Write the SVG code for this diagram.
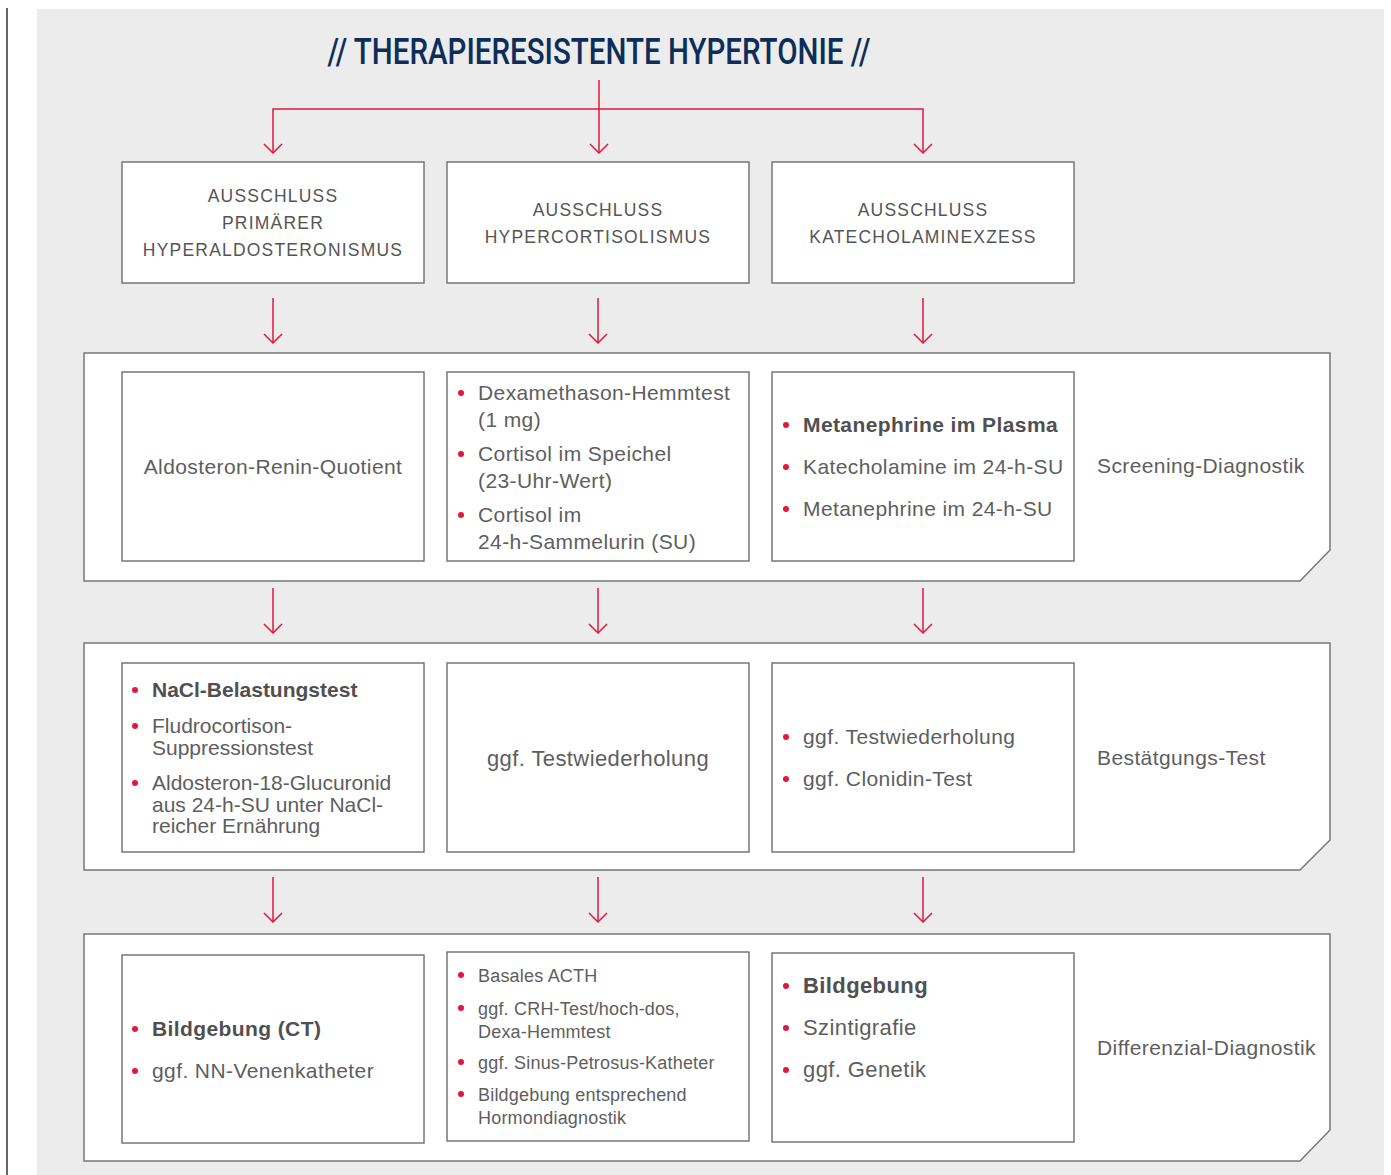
<svg xmlns="http://www.w3.org/2000/svg" width="1391" height="1175" viewBox="0 0 1391 1175">
<defs>
<style>
.box{fill:#fff;stroke:#777;stroke-width:1.5}
.band{fill:#fff;stroke:#777;stroke-width:1.5}
.con{fill:none;stroke:#e3173e;stroke-width:1.5}
.hd{font-family:"Liberation Sans",Arial,sans-serif;font-size:17.5px;letter-spacing:1.2px;fill:#555;text-anchor:middle}
.t{font-family:"Liberation Sans",Arial,sans-serif;font-size:21px;letter-spacing:0.4px;fill:#5e5e5e}
.tn{font-family:"Liberation Sans",Arial,sans-serif;font-size:21px;fill:#5e5e5e}
.tl{font-family:"Liberation Sans",Arial,sans-serif;font-size:22px;letter-spacing:0.4px;fill:#5e5e5e}
.ts{font-family:"Liberation Sans",Arial,sans-serif;font-size:18px;letter-spacing:0.2px;fill:#5e5e5e}
.b{font-weight:bold;fill:#505050}
.c{text-anchor:middle}
.dot{fill:#e3173e}
</style>
<marker id="arr" viewBox="0 0 12 20" refX="11" refY="10" markerWidth="12" markerHeight="20" markerUnits="userSpaceOnUse" orient="auto-start-reverse">
<path d="M2,1 L11,10 L2,19" fill="none" stroke="#e3173e" stroke-width="1.5"/>
</marker>
</defs>
<rect x="0" y="0" width="1391" height="1175" fill="#fff"/>
<rect x="6" y="8" width="2" height="1167" fill="#666"/>
<rect x="37" y="9" width="1347" height="1166" fill="#ececec"/>
<text x="599" y="64" font-family="Roboto,'Liberation Sans',sans-serif" font-weight="500" font-size="36" fill="#0d2d5a" text-anchor="middle" textLength="543" lengthAdjust="spacingAndGlyphs">// THERAPIERESISTENTE HYPERTONIE //</text>

<g id="connectors">
<path class="con" d="M599,80 V153" marker-end="url(#arr)"/>
<path class="con" d="M273,153 V109 H923 V153" marker-start="url(#arr)" marker-end="url(#arr)"/>
<path class="con" d="M273,298 V343" marker-end="url(#arr)"/>
<path class="con" d="M598,298 V343" marker-end="url(#arr)"/>
<path class="con" d="M923,298 V343" marker-end="url(#arr)"/>
<path class="con" d="M273,588 V633" marker-end="url(#arr)"/>
<path class="con" d="M598,588 V633" marker-end="url(#arr)"/>
<path class="con" d="M923,588 V633" marker-end="url(#arr)"/>
<path class="con" d="M273,877 V922" marker-end="url(#arr)"/>
<path class="con" d="M598,877 V922" marker-end="url(#arr)"/>
<path class="con" d="M923,877 V922" marker-end="url(#arr)"/>
</g>

<g id="band-screening">
<path class="band" d="M84,353 H1330 V550 L1300,581 H84 Z"/>
<text class="t" x="1097" y="473">Screening-Diagnostik</text>
</g>
<g id="band-bestaetigung">
<path class="band" d="M84,643 H1330 V840 L1300,870 H84 Z"/>
<text class="t" x="1097" y="765">Bestätgungs-Test</text>
</g>
<g id="band-differenzial">
<path class="band" d="M84,934 H1330 V1130 L1300,1161 H84 Z"/>
<text class="t" x="1097" y="1055">Differenzial-Diagnostik</text>
</g>

<g id="h1">
<rect class="box" x="122" y="162" width="302" height="121"/>
<text class="hd" x="273" y="202">AUSSCHLUSS</text>
<text class="hd" x="273" y="229">PRIMÄRER</text>
<text class="hd" x="273" y="256">HYPERALDOSTERONISMUS</text>
</g>
<g id="h2">
<rect class="box" x="447" y="162" width="302" height="121"/>
<text class="hd" x="598" y="216">AUSSCHLUSS</text>
<text class="hd" x="598" y="243">HYPERCORTISOLISMUS</text>
</g>
<g id="h3">
<rect class="box" x="772" y="162" width="302" height="121"/>
<text class="hd" x="923" y="216">AUSSCHLUSS</text>
<text class="hd" x="923" y="243">KATECHOLAMINEXZESS</text>
</g>

<g id="s1">
<rect class="box" x="122" y="372" width="302" height="189"/>
<text class="t c" x="273" y="474">Aldosteron-Renin-Quotient</text>
</g>
<g id="s2">
<rect class="box" x="447" y="372" width="302" height="189"/>
<circle class="dot" cx="461" cy="393" r="3"/>
<text class="t" x="478" y="400">Dexamethason-Hemmtest</text>
<text class="t" x="478" y="427">(1 mg)</text>
<circle class="dot" cx="461" cy="454" r="3"/>
<text class="t" x="478" y="461">Cortisol im Speichel</text>
<text class="t" x="478" y="488">(23-Uhr-Wert)</text>
<circle class="dot" cx="461" cy="515" r="3"/>
<text class="t" x="478" y="522">Cortisol im</text>
<text class="t" x="478" y="549">24-h-Sammelurin (SU)</text>
</g>
<g id="s3">
<rect class="box" x="772" y="372" width="302" height="189"/>
<circle class="dot" cx="786" cy="425" r="3"/>
<text class="t b" x="803" y="432">Metanephrine im Plasma</text>
<circle class="dot" cx="786" cy="467" r="3"/>
<text class="t" x="803" y="474">Katecholamine im 24-h-SU</text>
<circle class="dot" cx="786" cy="509" r="3"/>
<text class="t" x="803" y="516">Metanephrine im 24-h-SU</text>
</g>

<g id="c1">
<rect class="box" x="122" y="663" width="302" height="189"/>
<circle class="dot" cx="135" cy="690" r="3"/>
<text class="tn b" x="152" y="697">NaCl-Belastungstest</text>
<circle class="dot" cx="135" cy="726" r="3"/>
<text class="tn" x="152" y="733">Fludrocortison-</text>
<text class="tn" x="152" y="755">Suppressionstest</text>
<circle class="dot" cx="135" cy="783" r="3"/>
<text class="tn" x="152" y="790">Aldosteron-18-Glucuronid</text>
<text class="tn" x="152" y="812">aus 24-h-SU unter NaCl-</text>
<text class="tn" x="152" y="833">reicher Ernährung</text>
</g>
<g id="c2">
<rect class="box" x="447" y="663" width="302" height="189"/>
<text class="tl c" x="598" y="766">ggf. Testwiederholung</text>
</g>
<g id="c3">
<rect class="box" x="772" y="663" width="302" height="189"/>
<circle class="dot" cx="786" cy="737" r="3"/>
<text class="t" x="803" y="744">ggf. Testwiederholung</text>
<circle class="dot" cx="786" cy="779" r="3"/>
<text class="t" x="803" y="786">ggf. Clonidin-Test</text>
</g>

<g id="d1">
<rect class="box" x="122" y="955" width="302" height="188"/>
<circle class="dot" cx="135" cy="1029" r="3"/>
<text class="t b" x="152" y="1036">Bildgebung (CT)</text>
<circle class="dot" cx="135" cy="1071" r="3"/>
<text class="t" x="152" y="1078">ggf. NN-Venenkatheter</text>
</g>
<g id="d2">
<rect class="box" x="447" y="952" width="302" height="189"/>
<circle class="dot" cx="461" cy="975" r="3"/>
<text class="ts" x="478" y="982">Basales ACTH</text>
<circle class="dot" cx="461" cy="1008" r="3"/>
<text class="ts" x="478" y="1015">ggf. CRH-Test/hoch-dos,</text>
<text class="ts" x="478" y="1038">Dexa-Hemmtest</text>
<circle class="dot" cx="461" cy="1062" r="3"/>
<text class="ts" x="478" y="1069">ggf. Sinus-Petrosus-Katheter</text>
<circle class="dot" cx="461" cy="1094" r="3"/>
<text class="ts" x="478" y="1101">Bildgebung entsprechend</text>
<text class="ts" x="478" y="1124">Hormondiagnostik</text>
</g>
<g id="d3">
<rect class="box" x="772" y="953" width="302" height="189"/>
<circle class="dot" cx="786" cy="986" r="3"/>
<text class="tl b" x="803" y="993">Bildgebung</text>
<circle class="dot" cx="786" cy="1028" r="3"/>
<text class="tl" x="803" y="1035">Szintigrafie</text>
<circle class="dot" cx="786" cy="1070" r="3"/>
<text class="tl" x="803" y="1077">ggf. Genetik</text>
</g>
</svg>
